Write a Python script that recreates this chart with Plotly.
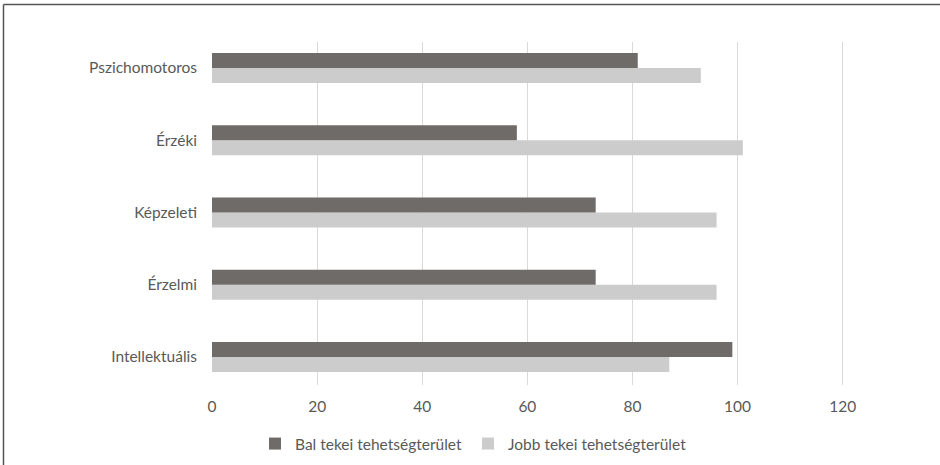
import plotly.graph_objects as go

# Talent areas, listed bottom to top as they appear on the axis
categories = ["Intellektuális", "Érzelmi", "Képzeleti", "Érzéki", "Pszichomotoros"]
bal_values = [99, 73, 73, 58, 81]      # Bal tekei tehetségterület
jobb_values = [87, 96, 96, 101, 93]    # Jobb tekei tehetségterület
x_ticks = [0, 20, 40, 60, 80, 100, 120]

W, H = 940, 465
ML, MR, MT, MB = 212, 0, 42, 80
TEXT = "#595959"
FONT = "Lato"
FS = 15.5


def px_x(px):
    return (px - ML) / (W - ML - MR)


def px_y(py):
    return 1 - (py - MT) / (H - MT - MB)


fig = go.Figure()
# Jobb is added first so that Bal sits above it within each group
fig.add_trace(go.Bar(
    y=categories, x=jobb_values, orientation="h",
    name="Jobb tekei tehetségterület", marker_color="#cccccc",
    marker_line_width=0, legend="legend2",
))
fig.add_trace(go.Bar(
    y=categories, x=bal_values, orientation="h",
    name="Bal tekei tehetségterület", marker_color="#6f6b69",
    marker_line_width=0, legend="legend",
))

# Frame around the chart area
fig.add_shape(type="line", xref="paper", yref="paper",
              x0=px_x(3.5), x1=px_x(945), y0=px_y(4.5), y1=px_y(4.5),
              line=dict(color="#555555", width=1.5))
fig.add_shape(type="line", xref="paper", yref="paper",
              x0=px_x(3.5), x1=px_x(3.5), y0=px_y(4.5), y1=px_y(470),
              line=dict(color="#555555", width=1.5))

legend_style = dict(
    orientation="h", yanchor="middle", y=px_y(444), xanchor="left",
    font=dict(size=FS, color=TEXT), itemwidth=30,
    bgcolor="rgba(0,0,0,0)",
)

fig.update_layout(
    width=W, height=H,
    margin=dict(l=ML, r=MR, t=MT, b=MB),
    paper_bgcolor="white", plot_bgcolor="white",
    barmode="group", bargap=0.585, bargroupgap=0,
    font=dict(family=FONT, size=FS, color=TEXT),
    xaxis=dict(
        range=[0, (W - ML) / 5.256], tickvals=x_ticks,
        showgrid=True, gridcolor="#d9d9d9", gridwidth=1,
        zeroline=False, showline=False, ticks="", ticklabelstandoff=10,
        tickfont=dict(size=FS, color=TEXT),
    ),
    yaxis=dict(
        range=[-0.3875, 4.36], showgrid=False, zeroline=False,
        showline=False, ticks="", ticklabelstandoff=14,
        tickfont=dict(size=FS, color=TEXT),
    ),
    showlegend=True,
    legend=dict(legend_style, x=px_x(255)),
    legend2=dict(legend_style, x=px_x(468)),
)

fig.write_html("out.html")
